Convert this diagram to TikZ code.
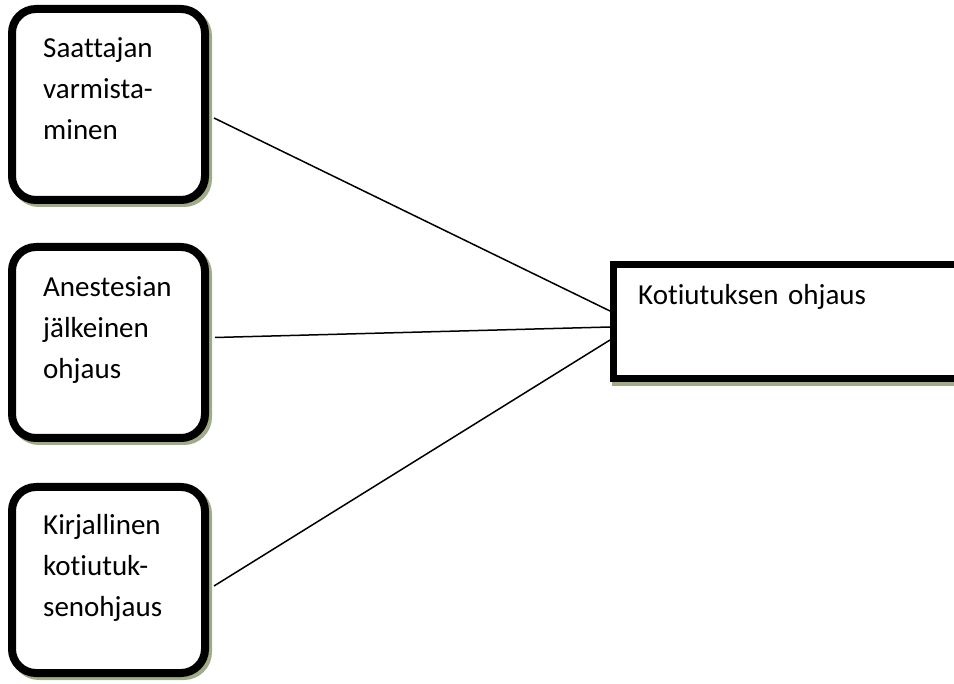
\documentclass[tikz,border=0pt]{standalone}
\usepackage{fontspec}
\setmainfont{Carlito}[Ligatures=NoCommon]
\usetikzlibrary{calc}
\definecolor{shadowgreen}{RGB}{160,172,134}
\tikzset{
  sidebox/.style={draw=black, line width=8pt, fill=white, rounded corners=24pt,
    minimum width=193pt, inner sep=0pt, outer sep=0pt,
    preaction={draw=shadowgreen, line width=8pt, transform canvas={shift={(3pt,-3pt)}}}},
  mainbox/.style={draw=black, line width=7pt, fill=white,
    minimum width=376.5pt, minimum height=114pt, inner sep=0pt, outer sep=0pt,
    preaction={draw=shadowgreen, line width=7pt, transform canvas={shift={(2pt,-4pt)}}}},
  boxtext/.style={anchor=base west, inner sep=0pt, text width=165pt, align=left,
    font=\fontsize{29}{41}\selectfont},
  link/.style={draw=black, line width=1.5pt},
}
\begin{document}
\begin{tikzpicture}[x=1pt, y=-1pt]
  \useasboundingbox (0,0) rectangle (954,684);

  % left-hand boxes
  \node[sidebox, minimum height=191pt] (b1) at (108.5,104.5) {};
  \node[sidebox, minimum height=191pt] (b2) at (108.5,342.5) {};
  \node[sidebox, minimum height=186pt] (b3) at (108.5,580) {};

  % target box, running off the right edge
  \node[mainbox] (k) at (801.75,321.5) {};

  % connectors from each box to the target box
  \draw[link] ($(b1.east)+(9,13.5)$) -- ($(k.west)+(-3.5,-10.5)$);
  \draw[link] ($(b2.east)+(10,-5)$) -- ($(k.west)+(-3.5,5.5)$);
  \draw[link] ($(b3.east)+(9,6)$) -- ($(k.west)+(-3.5,18.5)$);

  % texts
  \node[boxtext] (t1) at (43,58) {Saattajan\\varmista-\\minen};
  \node[boxtext] (t2) at (43,297) {Anestesian\\jälkeinen\\ohjaus};
  \node[boxtext] (t3) at (43,535) {Kirjallinen\\kotiutuk-\\senohjaus};
  \node[boxtext, text width=300pt] (tk) at (638,305) {Kotiutuksen ohjaus};
\end{tikzpicture}
\end{document}
